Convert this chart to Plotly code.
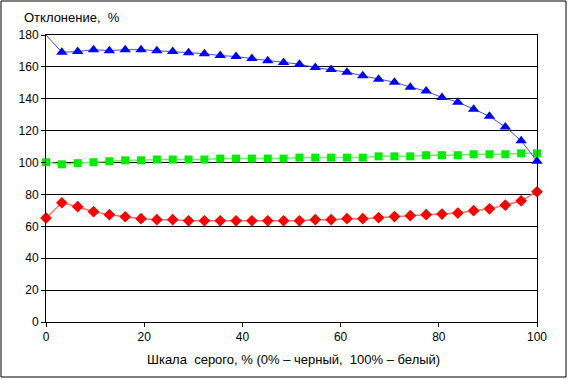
import plotly.graph_objects as go

n_points = 32
x_vals = [i * 100 / 31 for i in range(n_points)]

blue_vals = [180.0, 169.2, 169.6, 170.8, 170.2, 170.8, 170.8, 170.2, 169.6, 168.9,
             168.3, 167.1, 166.5, 165.2, 163.9, 162.7, 161.7, 159.6, 158.3, 156.7,
             154.4, 152.3, 150.4, 147.3, 144.8, 140.8, 137.9, 133.5, 129.0, 122.3,
             113.7, 100.8]
green_vals = [100.2, 98.9, 99.6, 100.2, 100.8, 101.4, 101.4, 101.9, 101.9, 101.9,
              101.9, 102.5, 102.5, 102.5, 102.5, 102.5, 103.1, 103.1, 103.1, 103.1,
              103.1, 103.9, 103.9, 103.9, 104.6, 104.6, 104.6, 105.2, 105.2, 105.2,
              105.8, 105.8]
red_vals = [65.2, 74.8, 72.3, 69.2, 67.3, 66.0, 64.8, 64.2, 64.2, 63.5,
            63.5, 63.5, 63.5, 63.5, 63.5, 63.5, 63.5, 64.2, 64.2, 64.8,
            64.8, 65.4, 66.1, 66.7, 67.3, 67.7, 68.3, 69.8, 71.0, 73.3,
            76.0, 81.7]

x_ticks = [0, 20, 40, 60, 80, 100]
y_ticks = [0, 20, 40, 60, 80, 100, 120, 140, 160, 180]

W, H = 568, 379
L, R, T, B = 46, 31, 35, 57
pw, ph = W - L - R, H - T - B

font = dict(family="Liberation Sans, Arial, sans-serif", size=12, color="black")
title_font = dict(family="Liberation Sans, Arial, sans-serif", size=13, color="black")

fig = go.Figure()
fig.add_trace(go.Scatter(
    x=x_vals, y=green_vals, mode="lines+markers",
    line=dict(color="rgb(110,240,110)", width=1.5),
    marker=dict(symbol="square", size=8, color="#00EE00"),
    cliponaxis=False,
))
fig.add_trace(go.Scatter(
    x=x_vals, y=red_vals, mode="lines+markers",
    line=dict(color="rgb(255,110,110)", width=1.5),
    marker=dict(symbol="diamond", size=9, color="#FF0000"),
    cliponaxis=False,
))
fig.add_trace(go.Scatter(
    x=x_vals, y=blue_vals, mode="lines+markers",
    line=dict(color="rgb(70,70,255)", width=1),
    marker=dict(symbol="triangle-up", size=10, color="#0000FF",
                opacity=[0] + [1] * (n_points - 1)),
    cliponaxis=False,
))

fig.update_layout(
    width=W, height=H,
    margin=dict(l=L, r=R, t=T, b=B),
    paper_bgcolor="white", plot_bgcolor="white",
    showlegend=False,
    font=font,
    xaxis=dict(range=[0, 100], tickvals=x_ticks, showgrid=False, zeroline=False,
               showline=True, linecolor="black", linewidth=1, mirror=True,
               ticks="outside", ticklen=4, tickcolor="black", tickfont=font),
    yaxis=dict(range=[0, 180], tickvals=y_ticks, showgrid=True, gridcolor="black",
               gridwidth=1, zeroline=False,
               showline=True, linecolor="black", linewidth=1, mirror=True,
               ticks="outside", ticklen=4, tickcolor="black", tickfont=font),
    shapes=[dict(type="rect", xref="paper", yref="paper",
                 x0=(1 - L) / pw, x1=(W - 2 - L) / pw,
                 y0=-(H - 2 - T - ph) / ph, y1=1 + (T - 1) / ph,
                 line=dict(color="black", width=1), fillcolor="rgba(0,0,0,0)")],
    annotations=[
        dict(text="Отклонение,&nbsp; %", xref="paper", yref="paper",
             x=(22 - L) / pw, y=1 + (T - 17) / ph, xanchor="left", yanchor="middle",
             showarrow=False, font=title_font),
        dict(text="Шкала&nbsp; серого, % (0% – черный,&nbsp; 100% – белый)",
             xref="paper", yref="paper",
             x=(293 - L) / pw, y=-(359 - T - ph) / ph, xanchor="center", yanchor="middle",
             showarrow=False, font=title_font),
    ],
)

fig.write_html("out.html", config={"displayModeBar": False},
               post_script="document.body.style.margin='0';")
